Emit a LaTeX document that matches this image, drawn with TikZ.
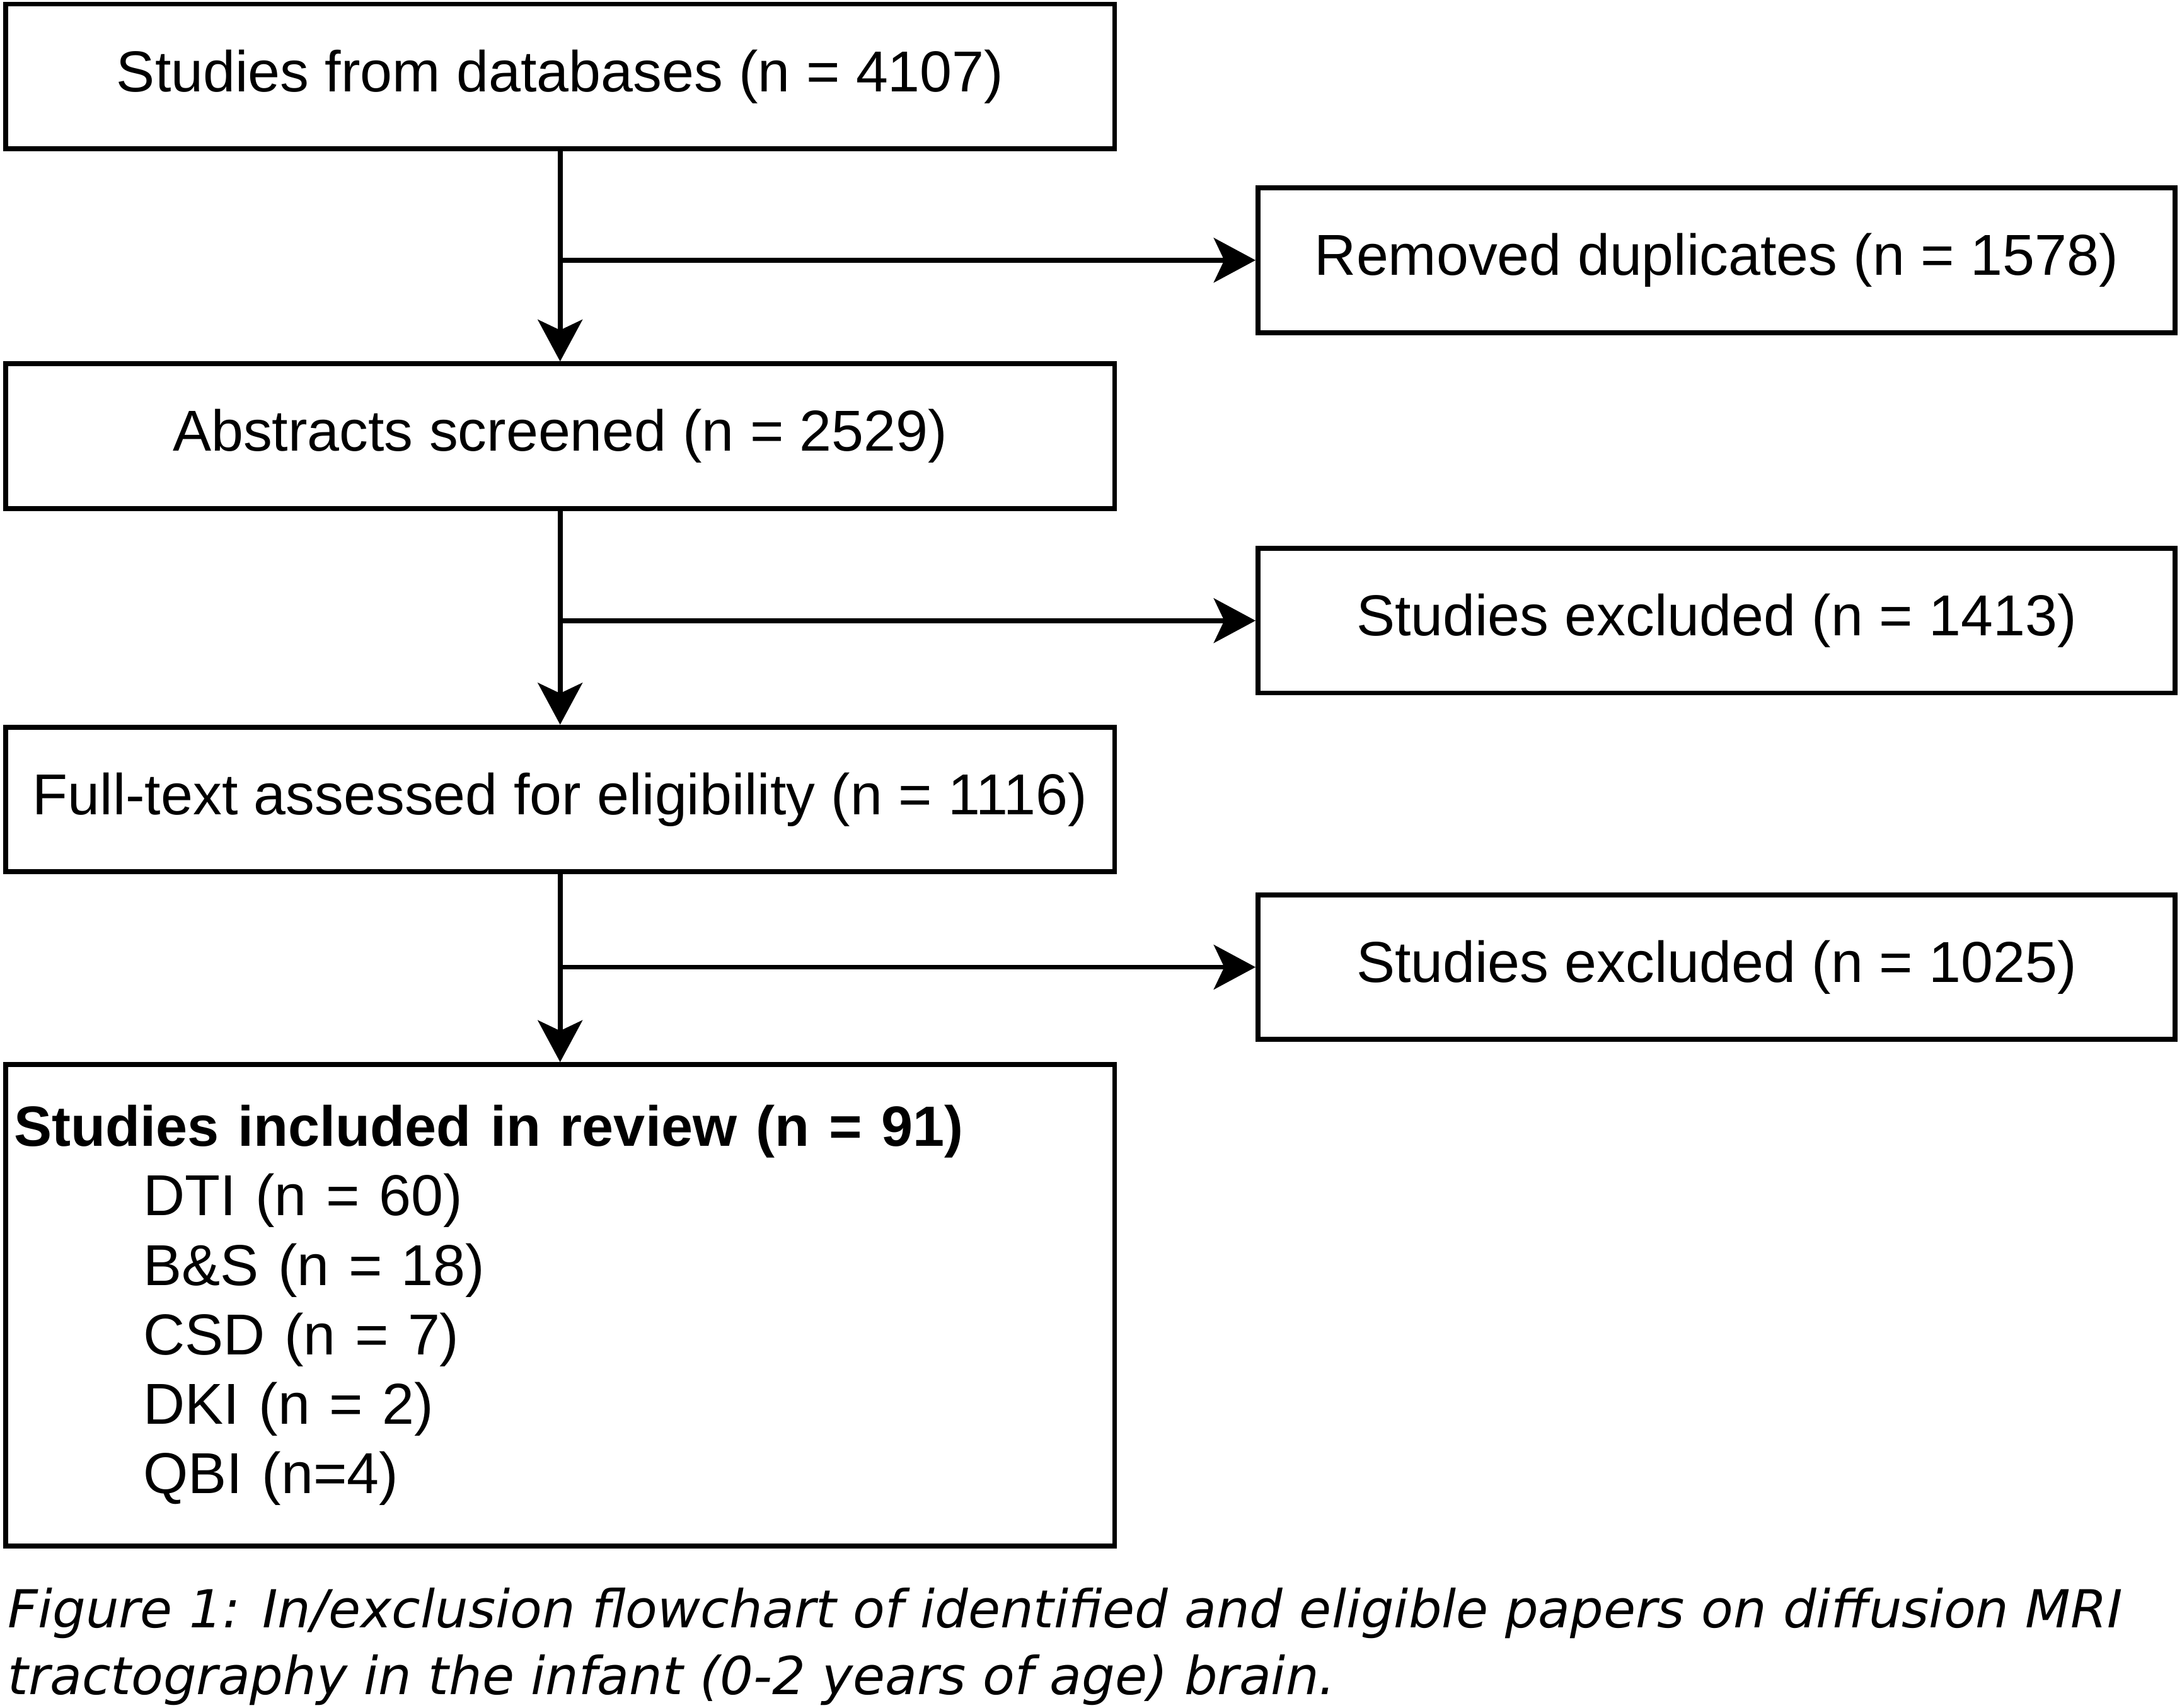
\documentclass[tikz,border=0pt]{standalone}
\usepackage{fontspec}
\setmainfont{Liberation Sans}
\newfontfamily\captionfont{DejaVu Sans}
\usepackage{tikz}
\usetikzlibrary{arrows.meta}
\tikzset{
    StepBox/.style={
        draw,
        line width=1pt,
        minimum width=7.97cm,
        minimum height=1.04cm,
        inner sep=0pt,
        font=\fontsize{11.8}{14.2}\selectfont
    }
}
\tikzset{
    SideBox/.style={StepBox, minimum width=6.59cm}
}
\tikzset{
    Flow/.style={
        line width=1pt,
        -{Stealth[length=0.3cm, width=0.32cm, inset=0.075cm]}
    }
}
\newcommand{\drawStep}[3]{\node[StepBox] (#1) at #2 {#3}}
\newcommand{\drawSide}[3]{\node[SideBox] (#1) at #2 {#3}}

\begin{document}
\begin{tikzpicture}

    \useasboundingbox (0,0) rectangle (15.68,-12.27);

    \drawStep{databases}{(4.025,-0.55)}{Studies from databases (n = 4107)};
    \drawSide{duplicates}{(12.335,-1.87)}{Removed duplicates (n = 1578)};

    \drawStep{abstracts}{(4.025,-3.135)}{Abstracts screened (n = 2529)};
    \drawSide{excludedA}{(12.335,-4.46)}{Studies excluded (n = 1413)};

    \drawStep{fulltext}{(4.025,-5.745)}{Full-text assessed for eligibility (n = 1116)};
    \drawSide{excludedB}{(12.335,-6.95)}{Studies excluded (n = 1025)};

    \node[StepBox, minimum height=3.46cm, text width=7.85cm, inner xsep=0.06cm, align=left] (included) at (4.025,-9.38)
        {{\fontsize{11.6}{14.2}\selectfont\textbf{Studies included in review (n = 91)}}\\
         \hspace*{0.93cm}DTI (n = 60)\\
         \hspace*{0.93cm}B\&S (n = 18)\\
         \hspace*{0.93cm}CSD (n = 7)\\
         \hspace*{0.93cm}DKI (n = 2)\\
         \hspace*{0.93cm}QBI (n=4)};

    \draw[Flow] (databases) -- (abstracts);
    \draw[Flow] (abstracts) -- (fulltext);
    \draw[Flow] (fulltext) -- (included);

    \draw[Flow] (databases.south |- duplicates.west) -- (duplicates);
    \draw[Flow] (abstracts.south |- excludedA.west) -- (excludedA);
    \draw[Flow] (fulltext.south |- excludedB.west) -- (excludedB);

    \node[anchor=base west, inner sep=0pt, align=left,
          font=\captionfont\itshape\fontsize{10.7}{13.66}\selectfont] (caption) at (0.05,-12.175)
        {Figure 1: In/exclusion flowchart of identified and eligible papers on diffusion MRI\\
         tractography in the infant (0-2 years of age) brain.};

\end{tikzpicture}
\end{document}
